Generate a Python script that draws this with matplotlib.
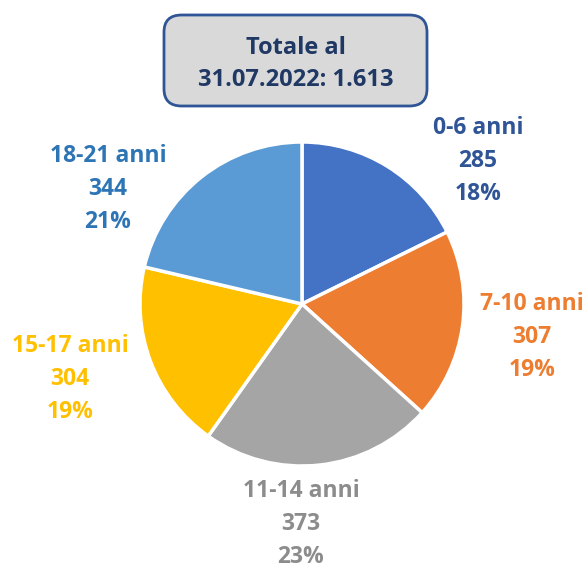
import matplotlib.pyplot as plt
from matplotlib.patches import FancyBboxPatch

# dati
categorie = ["0-6 anni", "7-10 anni", "11-14 anni", "15-17 anni", "18-21 anni"]
valori = [285, 307, 373, 304, 344]
colori = ["#4472C4", "#ED7D31", "#A5A5A5", "#FFC000", "#5B9BD5"]
colori_testo = ["#2F5597", "#ED7D31", "#8C8C8C", "#FFC000", "#2E75B6"]
titolo = "Totale al\n31.07.2022: 1.613"

W, H = 588, 568
# posizione delle etichette (pixel, centro del blocco)
pos_etichette = [(478, 161), (532, 337), (301, 524), (70, 379), (108, 189)]

plt.rcParams['font.family'] = ['Open Sans', 'DejaVu Sans']

fig = plt.figure(figsize=(W / 100, H / 100), dpi=100)
cx, cy, r = 302, 304, 162
ax = fig.add_axes([(cx - r) / W, (H - cy - r) / H, 2 * r / W, 2 * r / H])
ax.pie(valori, colors=colori, startangle=90, counterclock=False,
       wedgeprops=dict(edgecolor='white', linewidth=2.5))
ax.set_xlim(-1, 1)
ax.set_ylim(-1, 1)
ax.set_aspect('equal')
ax.axis('off')

totale = sum(valori)
for cat, v, col, (px, py) in zip(categorie, valori, colori_testo, pos_etichette):
    testo = f"{cat}\n{v}\n{round(v / totale * 100)}%"
    fig.text(px / W, 1 - py / H, testo, ha='center', va='center', color=col,
             fontsize=16.5, fontweight='bold', linespacing=1.5)

# riquadro del titolo
box = FancyBboxPatch((164 / W, 1 - 106 / H), 263 / W, 91 / H,
                     boxstyle="round,pad=0,rounding_size=0.03",
                     transform=fig.transFigure, facecolor='#D9D9D9',
                     edgecolor='#2F5597', linewidth=2)
fig.patches.append(box)
fig.text(296 / W, 1 - 64 / H, titolo, ha='center', va='center', color='#203864',
         fontsize=17, fontweight='bold', linespacing=1.4)

fig.savefig('out.png', dpi=100)
